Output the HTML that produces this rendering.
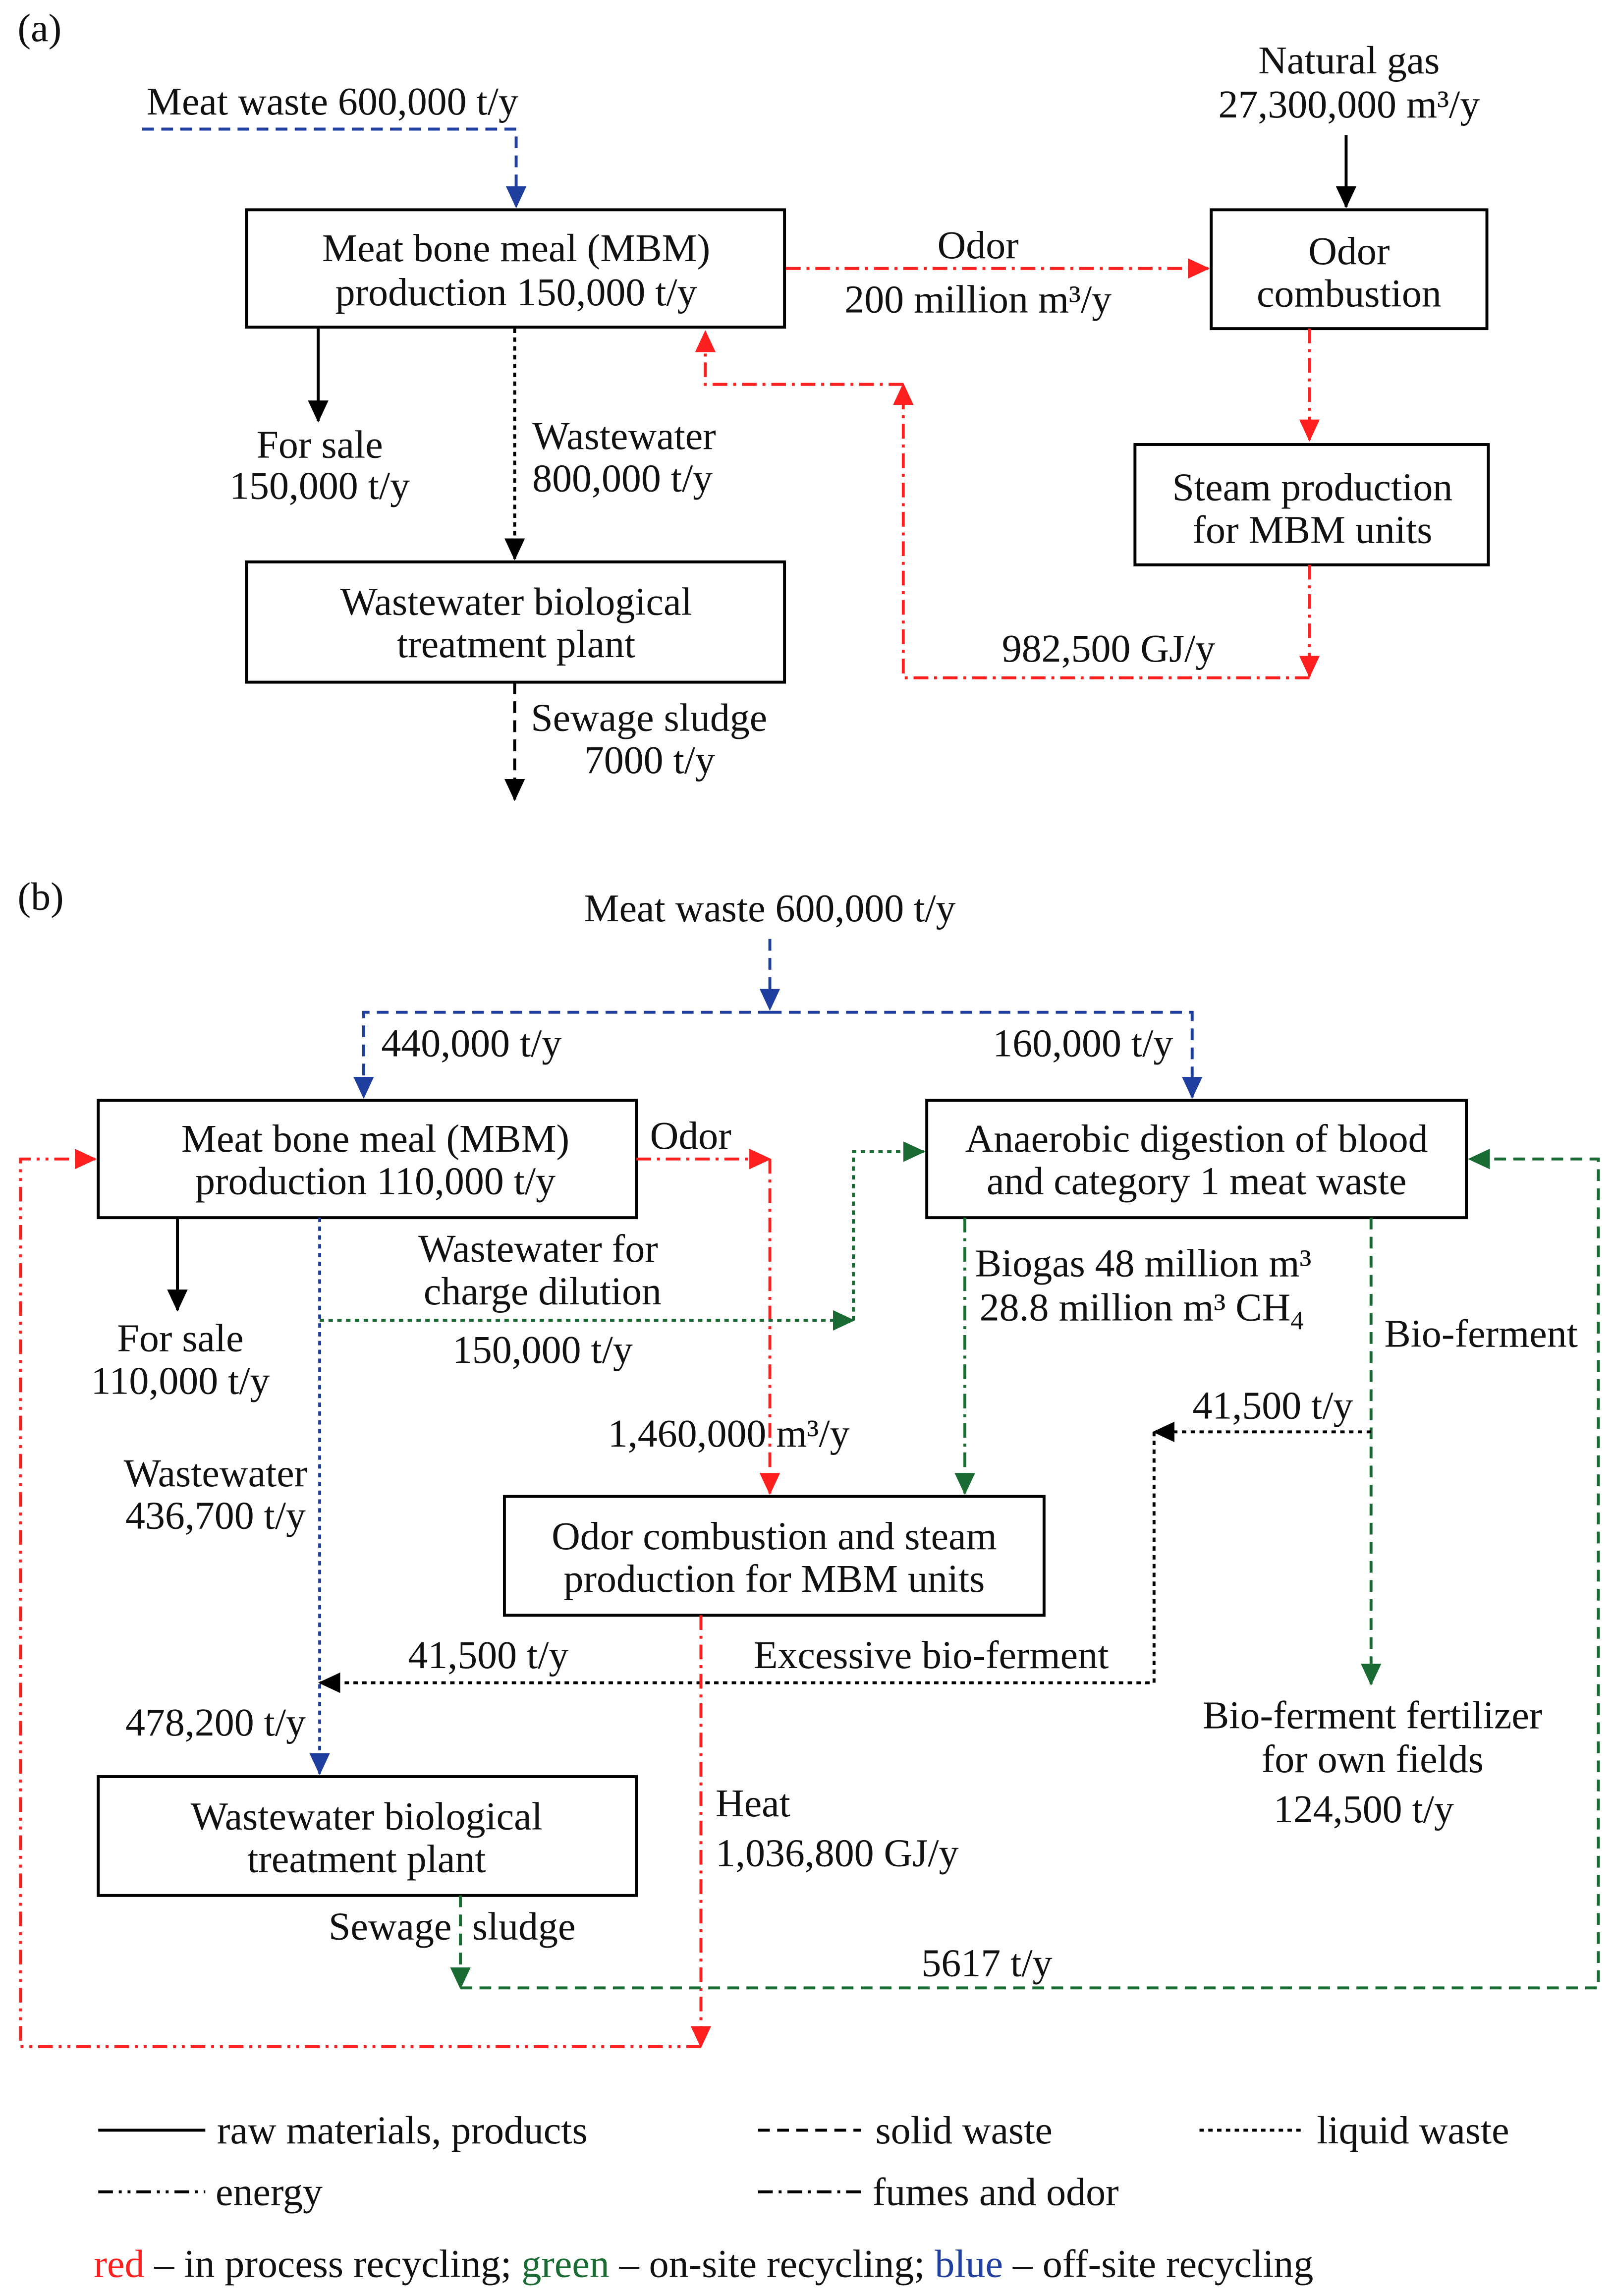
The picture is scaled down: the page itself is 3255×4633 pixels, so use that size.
<!DOCTYPE html>
<html><head><meta charset="utf-8"><style>
html,body{margin:0;padding:0;background:#fff}
svg{display:block}
text{font-family:"Liberation Serif",serif;font-size:27px;fill:#111}
</style></head><body>
<svg width="3255" height="4633" viewBox="0 0 1100 1565" preserveAspectRatio="none" xmlns="http://www.w3.org/2000/svg">
<defs>
<marker id="ak" markerUnits="userSpaceOnUse" markerWidth="16" markerHeight="16" refX="14" refY="8" orient="auto"><path d="M0,1 L15,8 L0,15 Z" fill="#000"/></marker>
<marker id="ab" markerUnits="userSpaceOnUse" markerWidth="16" markerHeight="16" refX="14" refY="8" orient="auto"><path d="M0,1 L15,8 L0,15 Z" fill="#1f3e9e"/></marker>
<marker id="ar" markerUnits="userSpaceOnUse" markerWidth="16" markerHeight="16" refX="14" refY="8" orient="auto"><path d="M0,1 L15,8 L0,15 Z" fill="#ff1f1f"/></marker>
<marker id="ag" markerUnits="userSpaceOnUse" markerWidth="16" markerHeight="16" refX="14" refY="8" orient="auto"><path d="M0,1 L15,8 L0,15 Z" fill="#1a6b33"/></marker>
</defs>
<g fill="none" stroke-width="2">
<rect x="168" y="143" width="367" height="80" stroke="#000"/>
<rect x="826" y="143" width="188" height="81" stroke="#000"/>
<rect x="168" y="383" width="367" height="82" stroke="#000"/>
<rect x="774" y="303" width="241" height="82" stroke="#000"/>
<path d="M97,88 H352 V141" stroke="#1f3e9e" stroke-dasharray="8 5" marker-end="url(#ab)"/>
<path d="M918,92 V141" stroke="#000" marker-end="url(#ak)"/>
<path d="M536,183 H824" stroke="#ff1f1f" stroke-dasharray="10 4 2 4" marker-end="url(#ar)"/>
<path d="M217,224 V287" stroke="#000" marker-end="url(#ak)"/>
<path d="M351,224 V381" stroke="#000" stroke-dasharray="3 3" marker-end="url(#ak)"/>
<path d="M351,465 V545" stroke="#000" stroke-dasharray="8 5" marker-end="url(#ak)"/>
<path d="M893,224 V300" stroke="#ff1f1f" stroke-dasharray="10 4 2 4" marker-end="url(#ar)"/>
<path d="M893,385 V461" stroke="#ff1f1f" stroke-dasharray="10 4 2 4" marker-end="url(#ar)"/>
<path d="M893,462 H616 V262" stroke="#ff1f1f" stroke-dasharray="10 4 2 4" marker-end="url(#ar)"/>
<path d="M616,262 H481 V226" stroke="#ff1f1f" stroke-dasharray="10 4 2 4" marker-end="url(#ar)"/>
<rect x="67" y="750" width="367" height="80" stroke="#000"/>
<rect x="632" y="750" width="368" height="80" stroke="#000"/>
<rect x="344" y="1020" width="368" height="81" stroke="#000"/>
<rect x="67" y="1211" width="367" height="81" stroke="#000"/>
<path d="M525,640 V688" stroke="#1f3e9e" stroke-dasharray="8 5" marker-end="url(#ab)"/>
<path d="M525,690 H248 V748" stroke="#1f3e9e" stroke-dasharray="8 5" marker-end="url(#ab)"/>
<path d="M525,690 H813 V748" stroke="#1f3e9e" stroke-dasharray="8 5" marker-end="url(#ab)"/>
<path d="M434,790 H525" stroke="#ff1f1f" stroke-dasharray="10 4 2 4" marker-end="url(#ar)"/>
<path d="M525,790 V1018" stroke="#ff1f1f" stroke-dasharray="10 4 2 4" marker-end="url(#ar)"/>
<path d="M121,830 V893" stroke="#000" marker-end="url(#ak)"/>
<path d="M218,830 V1209" stroke="#1f3e9e" stroke-dasharray="3 3" marker-end="url(#ab)"/>
<path d="M218,900 H582" stroke="#1a6b33" stroke-dasharray="3 3" marker-end="url(#ag)"/>
<path d="M582,900 V785 H630" stroke="#1a6b33" stroke-dasharray="3 3" marker-end="url(#ag)"/>
<path d="M658,830 V1018" stroke="#1a6b33" stroke-dasharray="10 4 2 4" marker-end="url(#ag)"/>
<path d="M935,830 V1148" stroke="#1a6b33" stroke-dasharray="8 5" marker-end="url(#ag)"/>
<path d="M935,976 H787" stroke="#000" stroke-dasharray="3 3" marker-end="url(#ak)"/>
<path d="M787,976 V1147 H218" stroke="#000" stroke-dasharray="3 3" marker-end="url(#ak)"/>
<path d="M478,1101 V1395" stroke="#ff1f1f" stroke-dasharray="10 4 2 4" marker-end="url(#ar)"/>
<path d="M478,1395 H14 V790 H65" stroke="#ff1f1f" stroke-dasharray="10 4 2 4 2 4" marker-end="url(#ar)"/>
<path d="M314,1292 V1355" stroke="#1a6b33" stroke-dasharray="8 5" marker-end="url(#ag)"/>
<path d="M314,1355 H1090 V790 H1002" stroke="#1a6b33" stroke-dasharray="8 5" marker-end="url(#ag)"/>
<path d="M67,1452 H140" stroke="#000"/>
<path d="M517,1452 H587" stroke="#000" stroke-dasharray="8 5"/>
<path d="M818,1452 H890" stroke="#000" stroke-dasharray="3 3"/>
<path d="M67,1494 H140" stroke="#000" stroke-dasharray="10 4 2 4 2 4"/>
<path d="M517,1494 H587" stroke="#000" stroke-dasharray="10 4 2 4"/>
</g>
<text x="12" y="28">(a)</text>
<text x="100" y="78">Meat waste 600,000 t/y</text>
<text x="352" y="178" text-anchor="middle">Meat bone meal (MBM)</text>
<text x="352" y="208" text-anchor="middle">production 150,000 t/y</text>
<text x="920" y="50" text-anchor="middle">Natural gas</text>
<text x="920" y="80" text-anchor="middle">27,300,000 m³/y</text>
<text x="920" y="180" text-anchor="middle">Odor</text>
<text x="920" y="209" text-anchor="middle">combustion</text>
<text x="667" y="176" text-anchor="middle">Odor</text>
<text x="667" y="213" text-anchor="middle">200 million m³/y</text>
<text x="218" y="312" text-anchor="middle">For sale</text>
<text x="218" y="340" text-anchor="middle">150,000 t/y</text>
<text x="363" y="306">Wastewater</text>
<text x="363" y="335">800,000 t/y</text>
<text x="352" y="419" text-anchor="middle">Wastewater biological</text>
<text x="352" y="448" text-anchor="middle">treatment plant</text>
<text x="362" y="498">Sewage sludge</text>
<text x="443" y="527" text-anchor="middle">7000 t/y</text>
<text x="895" y="341" text-anchor="middle">Steam production</text>
<text x="895" y="370" text-anchor="middle">for MBM units</text>
<text x="756" y="451" text-anchor="middle">982,500 GJ/y</text>
<text x="12" y="620">(b)</text>
<text x="525" y="628" text-anchor="middle">Meat waste 600,000 t/y</text>
<text x="260" y="720">440,000 t/y</text>
<text x="800" y="720" text-anchor="end">160,000 t/y</text>
<text x="256" y="785" text-anchor="middle">Meat bone meal (MBM)</text>
<text x="256" y="814" text-anchor="middle">production 110,000 t/y</text>
<text x="816" y="785" text-anchor="middle">Anaerobic digestion of blood</text>
<text x="816" y="814" text-anchor="middle">and category 1 meat waste</text>
<text x="471" y="783" text-anchor="middle">Odor</text>
<text x="123" y="921" text-anchor="middle">For sale</text>
<text x="123" y="950" text-anchor="middle">110,000 t/y</text>
<text x="367" y="860" text-anchor="middle">Wastewater for</text>
<text x="370" y="889" text-anchor="middle">charge dilution</text>
<text x="370" y="929" text-anchor="middle">150,000 t/y</text>
<text x="665" y="870">Biogas 48 million m³</text>
<text x="668" y="900">28.8 million m³ CH<tspan font-size="18" dy="6">4</tspan></text>
<text x="1010" y="918" text-anchor="middle">Bio-ferment</text>
<text x="868" y="967" text-anchor="middle">41,500 t/y</text>
<text x="497" y="986" text-anchor="middle">1,460,000  m³/y</text>
<text x="147" y="1013" text-anchor="middle">Wastewater</text>
<text x="147" y="1042" text-anchor="middle">436,700 t/y</text>
<text x="528" y="1056" text-anchor="middle">Odor combustion and steam</text>
<text x="528" y="1085" text-anchor="middle">production for MBM units</text>
<text x="333" y="1137" text-anchor="middle">41,500 t/y</text>
<text x="635" y="1137" text-anchor="middle">Excessive bio-ferment</text>
<text x="147" y="1183" text-anchor="middle">478,200 t/y</text>
<text x="936" y="1178" text-anchor="middle">Bio-ferment fertilizer</text>
<text x="936" y="1208" text-anchor="middle">for own fields</text>
<text x="930" y="1242" text-anchor="middle">124,500 t/y</text>
<text x="488" y="1238">Heat</text>
<text x="488" y="1272">1,036,800 GJ/y</text>
<text x="250" y="1247" text-anchor="middle">Wastewater biological</text>
<text x="250" y="1276" text-anchor="middle">treatment plant</text>
<text x="308" y="1322" text-anchor="end">Sewage</text>
<text x="322" y="1322">sludge</text>
<text x="673" y="1347" text-anchor="middle">5617 t/y</text>
<text x="148" y="1461">raw materials, products</text>
<text x="597" y="1461">solid waste</text>
<text x="898" y="1461">liquid waste</text>
<text x="147" y="1503">energy</text>
<text x="595" y="1503">fumes and odor</text>
<text x="64" y="1552"><tspan fill="#ff1f1f">red</tspan> – in process recycling; <tspan fill="#1a6b33">green</tspan> – on-site recycling; <tspan fill="#1f3e9e">blue</tspan> – off-site recycling</text>
</svg>
</body></html>
